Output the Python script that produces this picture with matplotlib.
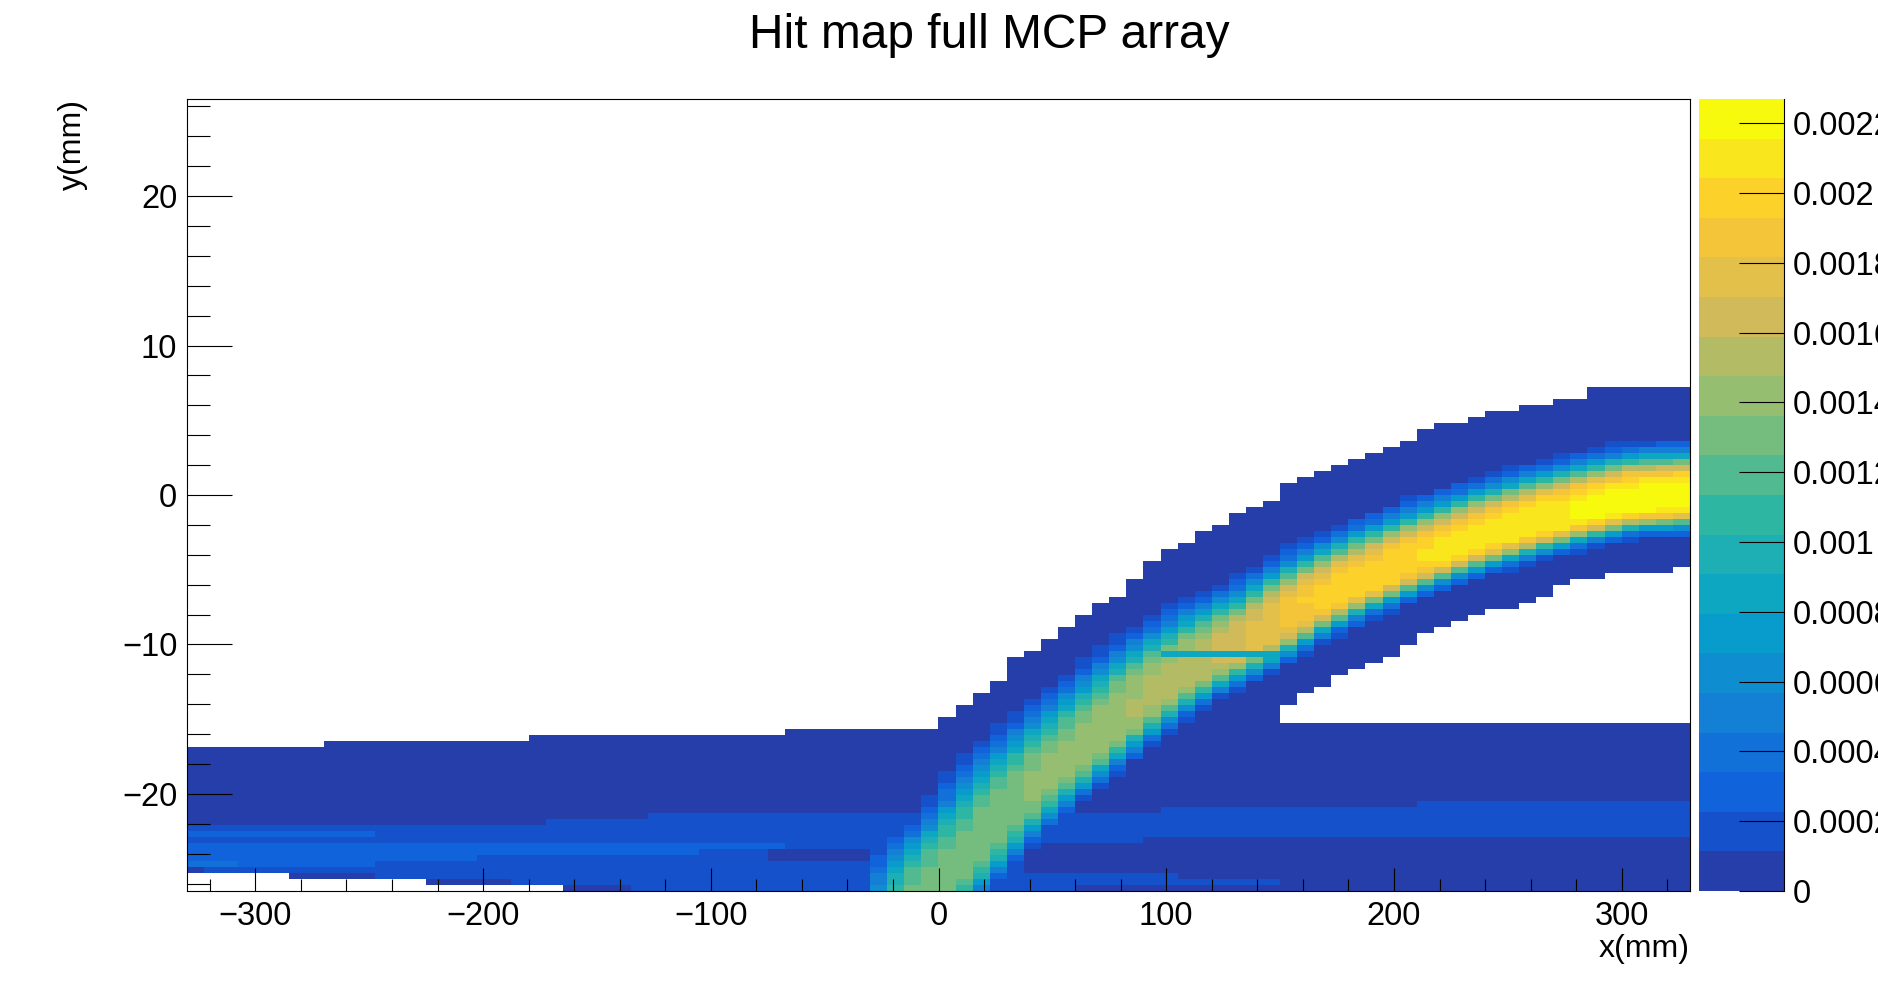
import numpy as np
import matplotlib
matplotlib.use("Agg")
import matplotlib.pyplot as plt
from matplotlib.colors import ListedColormap, BoundaryNorm
from matplotlib.ticker import MultipleLocator

plt.rcParams['font.family'] = ['Liberation Sans', 'DejaVu Sans']

# ---------------- histogram definition ----------------
X_MIN, X_MAX, NX = -330.0, 330.0, 88
Y_MIN, Y_MAX, NY = -26.5, 26.5, 132
Z_MAX = 0.002269
N_LEVELS = 20

# upper edge of the occupied region, one value per x bin (mm)
top_edge = [-17.0] * 8 + [-16.6] * 12 + [-16.2] * 15 + [-15.73] * 9 + [
    -14.92, -14.12, -13.25, -12.45, -10.78, -10.37, -9.5, -8.7, -7.9, -7.03,
    -6.63, -5.82, -4.55, -3.75, -3.35, -2.48, -2.08, -1.27, -0.8, -0.4,
    0.8, 1.27, 1.67, 2.07, 2.48, 2.88, 3.35, 3.75, 4.55, 4.95,
    4.95, 5.42, 5.82, 5.82, 6.22, 6.22, 6.62, 6.62, 7.03, 7.03,
    7.03, 7.03, 7.03, 7.03]

# empty gap under the arc (x bins 64..87)
gap_first_col = 64
gap_top = [-14.12, -13.25, -12.85, -12.05, -11.58, -11.18, -10.78, -9.97,
           -9.1, -8.7, -8.3, -7.9, -7.43, -7.43, -7.03, -6.63, -6.22, -5.82,
           -5.82, -5.42, -5.42, -5.42, -5.42, -4.95]
gap_bottom = -15.33

# low-level background bands: (first col, last col, y low, y high, level); level -1 = empty
bg_patches = [
    (0, 20, -26.5, -21.95, 1),
    (21, 26, -26.5, -21.55, 1),
    (27, 48, -26.5, -21.15, 1),
    (0, 10, -22.82, -22.35, 2),
    (0, 34, -23.62, -23.22, 2),
    (0, 29, -24.03, -23.62, 2),
    (0, 16, -24.43, -24.03, 2),
    (3, 10, -24.9, -24.43, 2),
    (0, 2, -24.9, -24.43, 3),
    (0, 0, -25.3, -24.9, 0),
    (6, 10, -25.7, -25.3, 0),
    (14, 18, -26.1, -25.7, 0),
    (22, 25, -26.5, -26.1, 0),
    (34, 39, -24.43, -23.62, 0),
    (0, 5, -26.5, -25.3, -1),
    (6, 13, -26.5, -25.7, -1),
    (14, 21, -26.5, -26.1, -1),
    (49, 55, -23.22, -21.15, 1),
    (56, 56, -22.82, -21.15, 1),
    (57, 71, -22.82, -20.75, 1),
    (72, 87, -22.82, -20.28, 1),
    (49, 57, -26.1, -25.3, 1),
    (58, 63, -26.1, -25.7, 1),
    (49, 51, -26.5, -26.1, 1),
]

# ridge of the bright band (mm), its peak content and its half widths
band_x = [-4, 4, 12, 20, 27, 34, 45, 64, 80, 100, 118, 140, 165, 190, 215, 245, 275, 305, 335]
band_y = [-26.8, -25.6, -24.5, -23.3, -22.2, -21.1, -19.6, -17.3, -15.3, -13.0,
          -11.3, -9.7, -7.4, -5.7, -4.2, -2.7, -1.5, -0.5, -0.3]
band_peak = [0.00128, 0.00130, 0.00130, 0.00131, 0.00132, 0.00134, 0.00138, 0.00141,
             0.00146, 0.00151, 0.00158, 0.00175, 0.00195, 0.00200, 0.00205, 0.00210,
             0.00215, 0.00222, 0.00226]
band_w_up = [3.3, 3.3, 3.3, 3.4, 3.5, 3.5, 3.5, 3.5, 3.4, 3.3, 3.2, 3.0,
             2.9, 2.88, 2.81, 2.81, 2.74, 2.74, 2.74]
band_w_dn = [1.81, 1.81, 1.81, 1.74, 1.74, 1.67, 1.67, 1.67, 1.67, 1.61, 1.61, 1.61,
             1.61, 1.54, 1.54, 1.54, 1.54, 1.51, 1.51]
X_SCALE = 0.1524  # mm of y per mm of x in the band profile metric

# row of reduced content at the MCP junction
dip_cols = (57, 63)
dip_y = (-10.78, -10.37)
dip_level = 7

title_text = "Hit map full MCP array"
x_label = "x(mm)"
y_label = "y(mm)"
cbar_ticks = [0.0, 0.0002, 0.0004, 0.0006, 0.0008, 0.001, 0.0012, 0.0014,
              0.0016, 0.0018, 0.002, 0.0022]

# ---------------- build the histogram ----------------
dz = Z_MAX / N_LEVELS
x_edges = np.linspace(X_MIN, X_MAX, NX + 1)
y_edges = np.linspace(Y_MIN, Y_MAX, NY + 1)
xc = 0.5 * (x_edges[:-1] + x_edges[1:])
yc = 0.5 * (y_edges[:-1] + y_edges[1:])
XX, YY = np.meshgrid(xc, yc)

top = np.array(top_edge)
inside = YY < top[None, :]
for k, gt in enumerate(gap_top):
    c = gap_first_col + k
    inside[:, c] &= ~((yc > gap_bottom) & (yc < gt))

Z = np.where(inside, 0.5 * dz, 0.0)
for c0, c1, ylo, yhi, lev in bg_patches:
    rows = (yc > ylo) & (yc < yhi)
    sub = Z[rows, c0:c1 + 1]
    if lev < 0:
        Z[rows, c0:c1 + 1] = 0.0
        inside[rows, c0:c1 + 1] = False
    else:
        Z[rows, c0:c1 + 1] = np.where(sub > 0, (lev + 0.5) * dz, 0.0)

# bright band from its ridge description
idx = np.arange(len(band_x))
t = np.linspace(0, len(band_x) - 1, 3000)
sx = np.interp(t, idx, band_x) * X_SCALE
sy = np.interp(t, idx, band_y)
spk = np.interp(t, idx, band_peak)
swu = np.interp(t, idx, band_w_up)
swd = np.interp(t, idx, band_w_dn)
tx = np.gradient(sx)
ty = np.gradient(sy)

px = XX.ravel() * X_SCALE
py = YY.ravel()
band = np.zeros(px.size)
for s in range(0, px.size, 1500):
    e = min(px.size, s + 1500)
    ddx = px[s:e, None] - sx[None, :]
    ddy = py[s:e, None] - sy[None, :]
    d2 = ddx ** 2 + ddy ** 2
    j = np.argmin(d2, axis=1)
    r = np.arange(e - s)
    dist = np.sqrt(d2[r, j])
    cross = tx[j] * ddy[r, j] - ty[j] * ddx[r, j]
    up = cross > 0
    w = np.where(up, swu[j], swd[j])
    p = np.where(up, 3.5, 3.0)
    band[s:e] = spk[j] * np.exp(-np.log(2) * (dist / w) ** p)
band = band.reshape(Z.shape)
Z = np.where(inside & (Z > 0), np.maximum(Z, band), Z)

dip_rows = (yc > dip_y[0]) & (yc < dip_y[1])
Z[dip_rows, dip_cols[0]:dip_cols[1] + 1] = (dip_level + 0.5) * dz

Zm = np.ma.masked_where(Z <= 0, Z)

# ---------------- ROOT kBird palette ----------------
stops = [0.0, 0.125, 0.25, 0.375, 0.5, 0.625, 0.75, 0.875, 1.0]
red = [0.2082, 0.0592, 0.0780, 0.0232, 0.1802, 0.5301, 0.8186, 0.9956, 0.9764]
green = [0.1664, 0.3599, 0.5041, 0.6419, 0.7178, 0.7492, 0.7328, 0.7862, 0.9832]
blue = [0.5293, 0.8684, 0.8385, 0.7914, 0.6425, 0.4662, 0.3499, 0.1968, 0.0539]
fr = (np.arange(N_LEVELS) + 1) / N_LEVELS
cols = np.stack([np.interp(fr, stops, red), np.interp(fr, stops, green),
                 np.interp(fr, stops, blue)], axis=1)
cmap = ListedColormap(cols)
cmap.set_bad((1, 1, 1, 0))
levels = np.linspace(0, Z_MAX, N_LEVELS + 1)
norm = BoundaryNorm(levels, N_LEVELS)

# ---------------- figure ----------------
W, H = 1878, 991
fig = plt.figure(figsize=(W / 100, H / 100), dpi=100)
fig.patch.set_facecolor('white')

def fx(v):
    return v / W

def fy(v):
    return 1 - v / H

ax = fig.add_axes([fx(187), fy(891), (1690 - 187) / W, (891 - 99) / H])
ax.imshow(Zm, origin='lower', extent=[X_MIN, X_MAX, Y_MIN, Y_MAX], aspect='auto',
          cmap=cmap, norm=norm, interpolation='nearest')
ax.set_xlim(X_MIN, X_MAX)
ax.set_ylim(Y_MIN, Y_MAX)
ax.xaxis.set_major_locator(MultipleLocator(100))
ax.xaxis.set_minor_locator(MultipleLocator(20))
ax.yaxis.set_major_locator(MultipleLocator(10))
ax.yaxis.set_minor_locator(MultipleLocator(2))
ax.tick_params(which='both', direction='in', top=False, right=False)
ax.tick_params(axis='x', which='major', length=16.5, width=0.8, labelsize=23.5, pad=7)
ax.tick_params(axis='x', which='minor', length=8.3, width=0.8)
ax.tick_params(axis='y', which='major', length=32.4, width=0.8, labelsize=23.5, pad=7)
ax.tick_params(axis='y', which='minor', length=16.2, width=0.8)
for sp in ax.spines.values():
    sp.set_linewidth(0.8)

# palette
cax = fig.add_axes([fx(1699), fy(891), (1784 - 1699) / W, (891 - 99) / H])
lev_vals = (np.arange(N_LEVELS) + 0.5) * dz
cax.imshow(lev_vals[:, None], origin='lower', extent=[0, 1, 0, Z_MAX], aspect='auto',
           cmap=cmap, norm=norm, interpolation='nearest')
cax.set_xlim(0, 1)
cax.set_ylim(0, Z_MAX)
cax.set_xticks([])
cax.yaxis.tick_right()
cax.set_yticks(cbar_ticks)
cax.set_yticklabels([f"{v:g}" for v in cbar_ticks])
cax.tick_params(axis='y', direction='in', length=32.4, width=0.8, labelsize=23.5,
                pad=6.5, left=False, right=True)
for name, sp in cax.spines.items():
    sp.set_visible(name == 'right')
    sp.set_linewidth(0.8)

fig.text(fx(989), fy(35), title_text, ha='center', va='center', fontsize=34.5)
fig.text(fx(1690), fy(957), x_label, ha='right', va='baseline', fontsize=23)
fig.text(fx(73), fy(99), y_label, ha='center', va='top', rotation=90, fontsize=23)

fig.savefig("out.png", dpi=100)
